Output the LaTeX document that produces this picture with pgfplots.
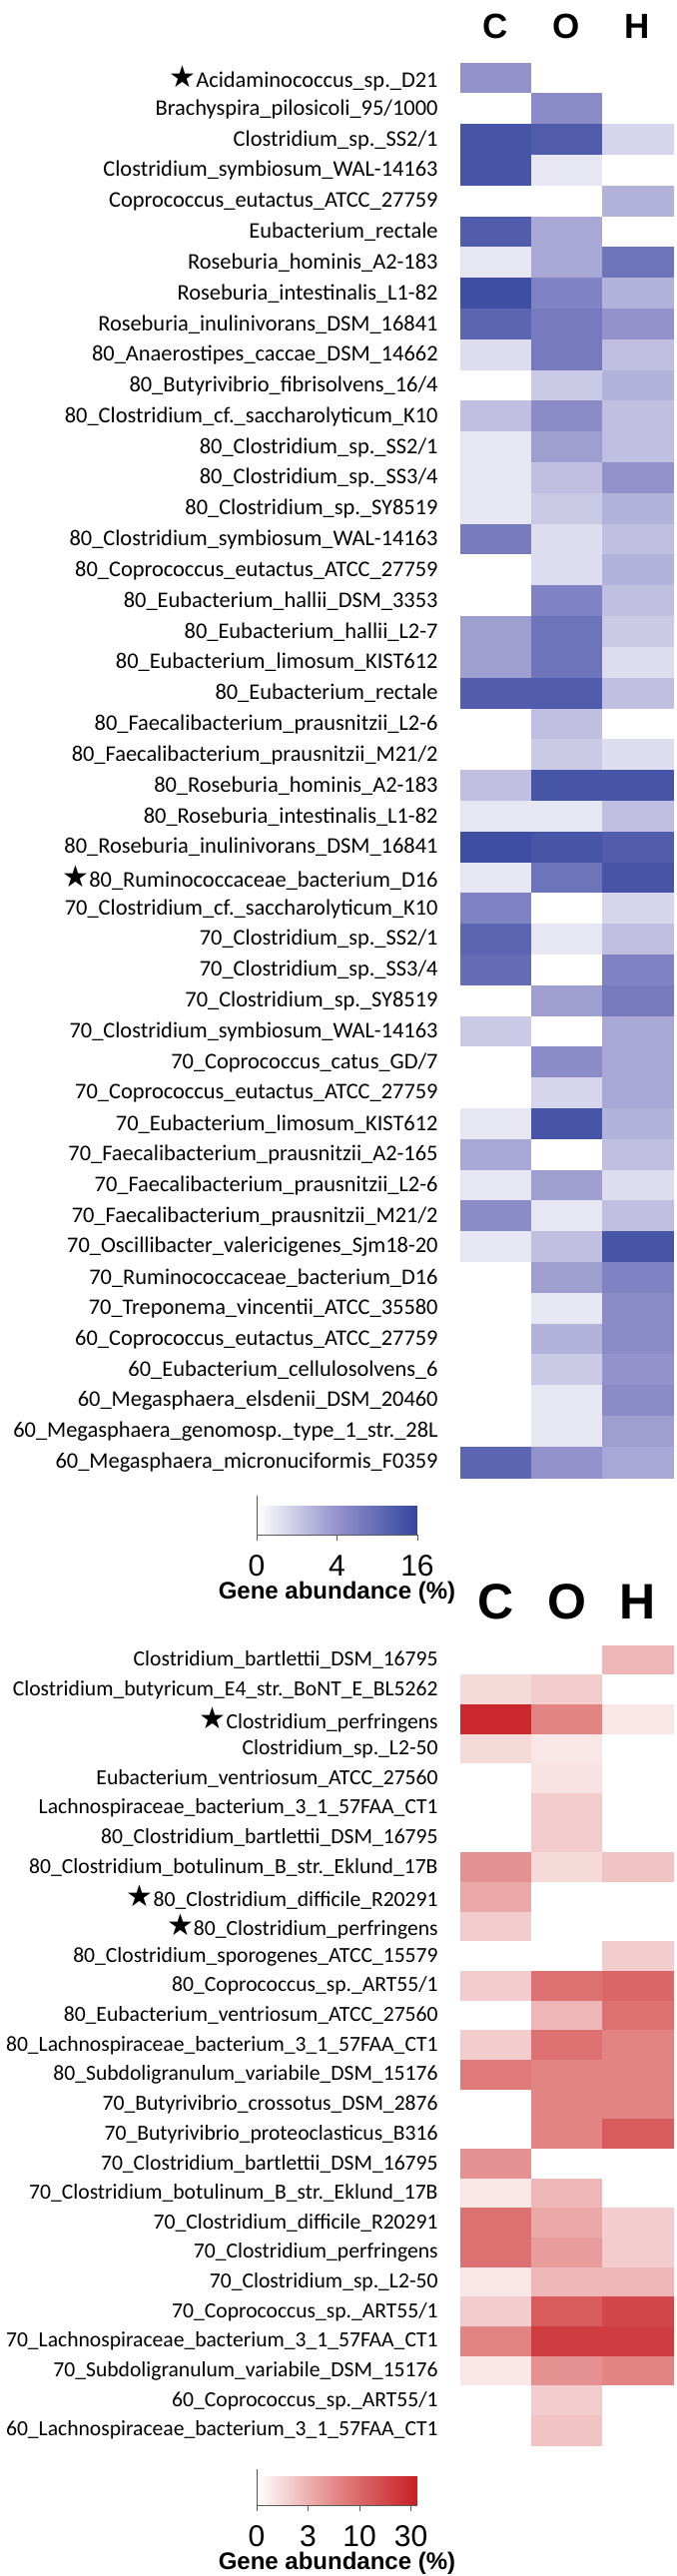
\documentclass[border=0pt]{standalone}
\usepackage{fontspec}
\setmainfont{Carlito}
\newfontfamily\arial{Liberation Sans}
\newfontfamily\dejavu{DejaVu Sans}
\usepackage{pgfplots}
\pgfplotsset{compat=1.18}
\usepackage{pgfplotstable}

\protected\def\STAR{{\fontsize{15}{15}\selectfont\dejavu ★}}

% values: gene abundance (%)
\pgfplotstableread[col sep=comma]{
name,C,O,H
\STAR Acidaminococcus\_sp.\_D21,4.0,0,0
Brachyspira\_pilosicoli\_95/1000,0,4.8,0
Clostridium\_sp.\_SS2/1,13.0,11.6,0.6
Clostridium\_symbiosum\_WAL-14163,13.0,0.2,0
Coprococcus\_eutactus\_ATCC\_27759,0,0,2.0
Eubacterium\_rectale,11.6,2.6,0
Roseburia\_hominis\_A2-183,0.2,2.6,7.8
Roseburia\_intestinalis\_L1-82,14.4,5.8,2.0
Roseburia\_inulinivorans\_DSM\_16841,10.2,6.8,4.0
80\_Anaerostipes\_caccae\_DSM\_14662,0.4,6.8,1.4
80\_Butyrivibrio\_fibrisolvens\_16/4,0,1.0,2.0
80\_Clostridium\_cf.\_saccharolyticum\_K10,1.4,4.8,1.4
80\_Clostridium\_sp.\_SS2/1,0.2,3.2,1.4
80\_Clostridium\_sp.\_SS3/4,0.2,1.4,4.0
80\_Clostridium\_sp.\_SY8519,0.2,1.0,2.0
80\_Clostridium\_symbiosum\_WAL-14163,6.8,0.4,1.4
80\_Coprococcus\_eutactus\_ATCC\_27759,0,0.4,2.0
80\_Eubacterium\_hallii\_DSM\_3353,0,5.8,1.4
80\_Eubacterium\_hallii\_L2-7,3.2,7.8,1.0
80\_Eubacterium\_limosum\_KIST612,3.2,7.8,0.4
80\_Eubacterium\_rectale,11.6,11.6,1.4
80\_Faecalibacterium\_prausnitzii\_L2-6,0,1.4,0
80\_Faecalibacterium\_prausnitzii\_M21/2,0,1.0,0.4
80\_Roseburia\_hominis\_A2-183,1.4,13.0,13.0
80\_Roseburia\_intestinalis\_L1-82,0.2,0.2,1.4
80\_Roseburia\_inulinivorans\_DSM\_16841,14.4,13.0,11.6
\STAR 80\_Ruminococcaceae\_bacterium\_D16,0.2,7.8,13.0
70\_Clostridium\_cf.\_saccharolyticum\_K10,5.8,0,0.6
70\_Clostridium\_sp.\_SS2/1,10.2,0.2,1.4
70\_Clostridium\_sp.\_SS3/4,9.0,0,5.8
70\_Clostridium\_sp.\_SY8519,0,3.2,6.8
70\_Clostridium\_symbiosum\_WAL-14163,1.0,0,2.6
70\_Coprococcus\_catus\_GD/7,0,4.8,2.6
70\_Coprococcus\_eutactus\_ATCC\_27759,0,0.6,2.6
70\_Eubacterium\_limosum\_KIST612,0.2,13.0,2.0
70\_Faecalibacterium\_prausnitzii\_A2-165,2.6,0,1.4
70\_Faecalibacterium\_prausnitzii\_L2-6,0.2,3.2,0.4
70\_Faecalibacterium\_prausnitzii\_M21/2,4.8,0.2,1.4
70\_Oscillibacter\_valericigenes\_Sjm18-20,0.2,1.4,13.0
70\_Ruminococcaceae\_bacterium\_D16,0,3.2,5.8
70\_Treponema\_vincentii\_ATCC\_35580,0,0.2,4.8
60\_Coprococcus\_eutactus\_ATCC\_27759,0,2.0,4.8
60\_Eubacterium\_cellulosolvens\_6,0,1.0,4.0
60\_Megasphaera\_elsdenii\_DSM\_20460,0,0.2,4.8
60\_Megasphaera\_genomosp.\_type\_1\_str.\_28L,0,0.2,3.2
60\_Megasphaera\_micronuciformis\_F0359,10.2,4.0,2.6
}\toptab

\pgfplotstableread[col sep=comma]{
name,C,O,H
Clostridium\_bartlettii\_DSM\_16795,0,0,2.8
Clostridium\_butyricum\_E4\_str.\_BoNT\_E\_BL5262,1.4,1.9,0
\STAR Clostridium\_perfringens,29.4,6.9,0.9
Clostridium\_sp.\_L2-50,1.4,0.9,0
Eubacterium\_ventriosum\_ATCC\_27560,0,1.1,0
Lachnospiraceae\_bacterium\_3\_1\_57FAA\_CT1,0,1.9,0
80\_Clostridium\_bartlettii\_DSM\_16795,0,1.9,0
80\_Clostridium\_botulinum\_B\_str.\_Eklund\_17B,5.8,1.4,2.3
\STAR 80\_Clostridium\_difficile\_R20291,3.7,0,0
\STAR 80\_Clostridium\_perfringens,1.9,0,0
80\_Clostridium\_sporogenes\_ATCC\_15579,0,0,1.9
80\_Coprococcus\_sp.\_ART55/1,1.9,9.1,10.6
80\_Eubacterium\_ventriosum\_ATCC\_27560,0,2.8,9.1
80\_Lachnospiraceae\_bacterium\_3\_1\_57FAA\_CT1,1.9,9.1,6.9
80\_Subdoligranulum\_variabile\_DSM\_15176,8.0,6.9,6.9
70\_Butyrivibrio\_crossotus\_DSM\_2876,0,6.9,6.9
70\_Butyrivibrio\_proteoclasticus\_B316,0,6.9,13.8
70\_Clostridium\_bartlettii\_DSM\_16795,5.8,0,0
70\_Clostridium\_botulinum\_B\_str.\_Eklund\_17B,0.9,2.8,0
70\_Clostridium\_difficile\_R20291,9.1,3.7,1.9
70\_Clostridium\_perfringens,9.1,4.8,1.9
70\_Clostridium\_sp.\_L2-50,0.9,2.8,2.8
70\_Coprococcus\_sp.\_ART55/1,1.9,13.8,20.0
70\_Lachnospiraceae\_bacterium\_3\_1\_57FAA\_CT1,6.9,23.1,23.1
70\_Subdoligranulum\_variabile\_DSM\_15176,0.9,5.8,6.9
60\_Coprococcus\_sp.\_ART55/1,0,1.9,0
60\_Lachnospiraceae\_bacterium\_3\_1\_57FAA\_CT1,0,2.3,0
}\bottab

\pgfplotsset{
  heat/.style={
    scale only axis, width=106.5pt,
    xmin=-0.5, xmax=2.5, y dir=reverse,
    axis line style={draw=none}, tick style={draw=none},
    xtick={0,1,2}, xticklabels={C,O,H}, xticklabel pos=upper,
    point meta min=0, point meta max=1,
    colorbar horizontal, colorbar shift/.style={},
  },
  cbar/.style={
    at={(parent axis.south west)}, anchor=north west, xshift=-102pt,
    scale only axis, width=80.5pt,
    axis x line*=bottom, axis y line*=left, ytick=\empty,
    axis line style={draw=black!65},
    tick align=outside, major tick length=3pt, tick style={draw=black!65},
    xticklabel style={font=\arial\fontsize{15}{15}\selectfont, anchor=north, inner sep=0pt},
    xticklabel shift=7pt,
    xlabel={Gene abundance (\%)},
    xlabel style={font=\arial\bfseries\fontsize{12}{12}\selectfont, inner sep=0pt,
      at={(axis description cs:0.5,0)}, anchor=base, yshift=-32pt},
  },
  cell/.style={scatter, only marks, mark=square*,
    scatter/use mapped color={draw=mapped color, fill=mapped color}},
}

\begin{document}
\begin{tikzpicture}
\useasboundingbox (0,0) rectangle (338.5pt,-1290pt);

\begin{axis}[heat,
  at={(230.5pt,-31.5pt)}, anchor=north west, height=708.5pt,
  ymin=-0.5, ymax=45.5, ytick={0,...,45},
  yticklabels from table={\toptab}{name},
  yticklabel style={font=\fontsize{11.2}{11.2}\selectfont, inner sep=0pt, xshift=-11pt},
  xticklabel style={font=\arial\bfseries\fontsize{17.5}{17.5}\selectfont, inner sep=0pt, yshift=12pt},
  colormap={bluemap}{rgb255=(255,255,255) rgb255=(148,146,204) rgb255=(52,70,158)},
  colorbar style={cbar, yshift=-9pt, height=19.5pt,
    xtick={0,0.5,1}, xticklabels={0,4,16}},
]
\foreach \col/\xx in {C/0,O/1,H/2}{
  \addplot[cell, mark size=7.7pt, mark options={xscale=2.305},
    point meta={sqrt(\thisrow{\col})/4}]
    table[x expr=\xx, y expr=\coordindex] {\toptab};
}
\end{axis}

\begin{axis}[heat,
  at={(230.5pt,-824pt)}, anchor=north west, height=400.5pt,
  ymin=-0.5, ymax=26.5, ytick={0,...,26},
  yticklabels from table={\bottab}{name},
  yticklabel style={font=\fontsize{10.8}{10.8}\selectfont, inner sep=0pt, xshift=-11pt},
  xticklabel style={font=\arial\bfseries\fontsize{25}{25}\selectfont, inner sep=0pt, yshift=13pt},
  colormap={redmap}{rgb255=(255,255,255) rgb255=(226,132,132) rgb255=(200,30,35)},
  declare function={rs(\v)=(\v<=3)*0.32*\v/3 + and(\v>3,\v<=10)*(0.32+0.32*(\v-3)/7) + (\v>10)*(0.64+0.32*(\v-10)/20);},
  colorbar style={cbar, yshift=-12pt, height=18pt,
    xtick={0,0.32,0.64,0.96}, xticklabels={0,3,10,30}},
]
\foreach \col/\xx in {C/0,O/1,H/2}{
  \addplot[cell, mark size=7.425pt, mark options={xscale=2.3906},
    point meta={rs(\thisrow{\col})}]
    table[x expr=\xx, y expr=\coordindex] {\bottab};
}
\end{axis}
\end{tikzpicture}
\end{document}
